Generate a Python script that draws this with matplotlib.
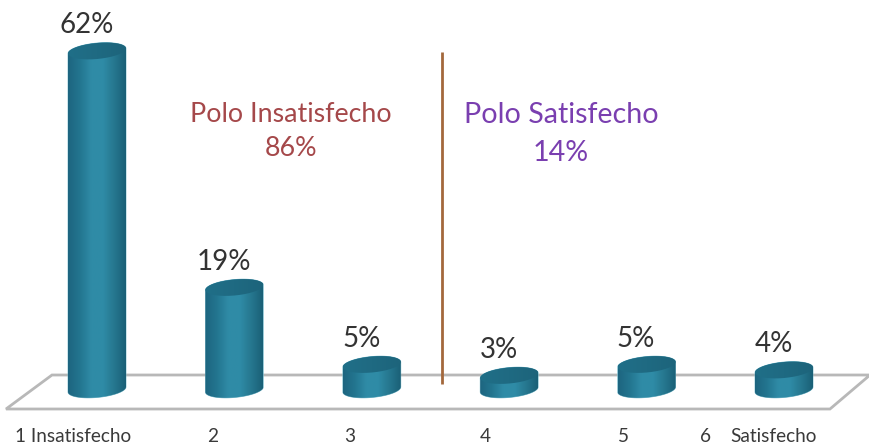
import numpy as np
import matplotlib
matplotlib.use("Agg")
import matplotlib.pyplot as plt
from matplotlib.colors import LinearSegmentedColormap
from matplotlib.patches import PathPatch, Polygon
from matplotlib.path import Path
from matplotlib.transforms import Affine2D

plt.rcParams['font.family'] = ['Lato', 'DejaVu Sans']

categories = ["1", "2", "3", "4", "5", "6"]
values = [62, 19, 5, 3, 5, 4]
value_labels = ["62%", "19%", "5%", "3%", "5%", "4%"]
axis_labels = ["1 Insatisfecho", "2", "3", "4", "5", "6", "Satisfecho"]
pole_labels = ["Polo Insatisfecho\n86%", "Polo Satisfecho\n14%"]

W, H = 870, 448
fig = plt.figure(figsize=(W / 100, H / 100), dpi=100)
ax = fig.add_axes([0, 0, 1, 1])

# data scale: 137.4 px per category, 5.5 px per percentage point
X0, DX, Y0, DY = 97, 137.4, 392, 5.5
ax.set_xlim(-X0 / DX, (W - X0) / DX)
ax.set_ylim((Y0 - H) / DY, Y0 / DY)
ax.axis("off")

px = Affine2D().scale(1 / W, -1 / H).translate(0, 1) + ax.transAxes

# floor of the chart
ax.add_patch(Polygon([(52, 375), (870, 375), (830, 409), (6, 409)], closed=True,
                     fc="white", ec="#b8b8b8", lw=2.0, transform=px, zorder=1))

cmap_side = LinearSegmentedColormap.from_list(
    "side", ["#1d6580", "#23758f", "#2f8ba6", "#2f8ca7", "#26778f", "#1a6077"])
cmap_top = LinearSegmentedColormap.from_list(
    "top", ["#206f88", "#1f6a82", "#1d647b"])
grad = np.linspace(0, 1, 128).reshape(1, -1)

HALF_W = 29 / DX      # half width in category units
RX, RY, TILT = 29, 8.0, np.deg2rad(5)
BASE_V = (Y0 - 389.5) / DY


def ellipse_arc(cx, cy, lo, hi):
    t = np.linspace(lo, hi, 37)
    xs = RX * np.cos(t)
    ys = RY * np.sin(t) + xs * np.tan(TILT)
    return cx + xs / DX, cy + ys / DY


for i, v in enumerate(values):
    xb, yb = ellipse_arc(i, BASE_V, np.pi, 2 * np.pi)
    xt, yt = ellipse_arc(i, v, 0, np.pi)
    verts = np.column_stack([np.r_[xb, xt], np.r_[yb, yt]])
    side = PathPatch(Path(np.vstack([verts, verts[0]]), closed=True),
                     transform=ax.transData, fc="none", ec="#6fb6c8", lw=0.5, zorder=3)
    ax.add_patch(side)
    im = ax.imshow(grad, cmap=cmap_side, aspect="auto", zorder=3,
                   extent=[i - HALF_W, i + HALF_W, BASE_V - 4, v + 4])
    im.set_clip_path(side)

    xt2, yt2 = ellipse_arc(i, v, 0, 2 * np.pi)
    top = PathPatch(Path(np.column_stack([xt2, yt2]), closed=True),
                    transform=ax.transData, fc="none", ec="none", zorder=4)
    ax.add_patch(top)
    im2 = ax.imshow(grad, cmap=cmap_top, aspect="auto", zorder=4,
                    extent=[i - HALF_W, i + HALF_W, v - 3, v + 3])
    im2.set_clip_path(top)

    ax.annotate(value_labels[i], (i, v), xytext=(-7.6, 18.5),
                textcoords="offset points", ha="center", va="center",
                fontsize=20, color="#333333", zorder=5)

ax.set_xlim(-X0 / DX, (W - X0) / DX)
ax.set_ylim((Y0 - H) / DY, Y0 / DY)

# divider
ax.plot([442, 442], [52, 384], color="#a3683c", lw=2.0, transform=px, zorder=6,
        solid_capstyle="butt")

# pole captions
ax.text(291, 131, pole_labels[0], transform=px, ha="center", va="center",
        fontsize=19.3, color="#a5484a", linespacing=1.45, zorder=6)
ax.text(561, 134, pole_labels[1], transform=px, ha="center", va="center",
        fontsize=20.6, color="#7a3fb0", linespacing=1.6, zorder=6)

# axis captions
for s, x in zip(axis_labels, [15, 207, 344, 480, 618, 700, 730]):
    ax.text(x, 437, s, transform=px, ha="left", va="center",
            fontsize=13.7, color="#3a3a3a", zorder=6)

fig.savefig("out.png", dpi=100, facecolor="white")
